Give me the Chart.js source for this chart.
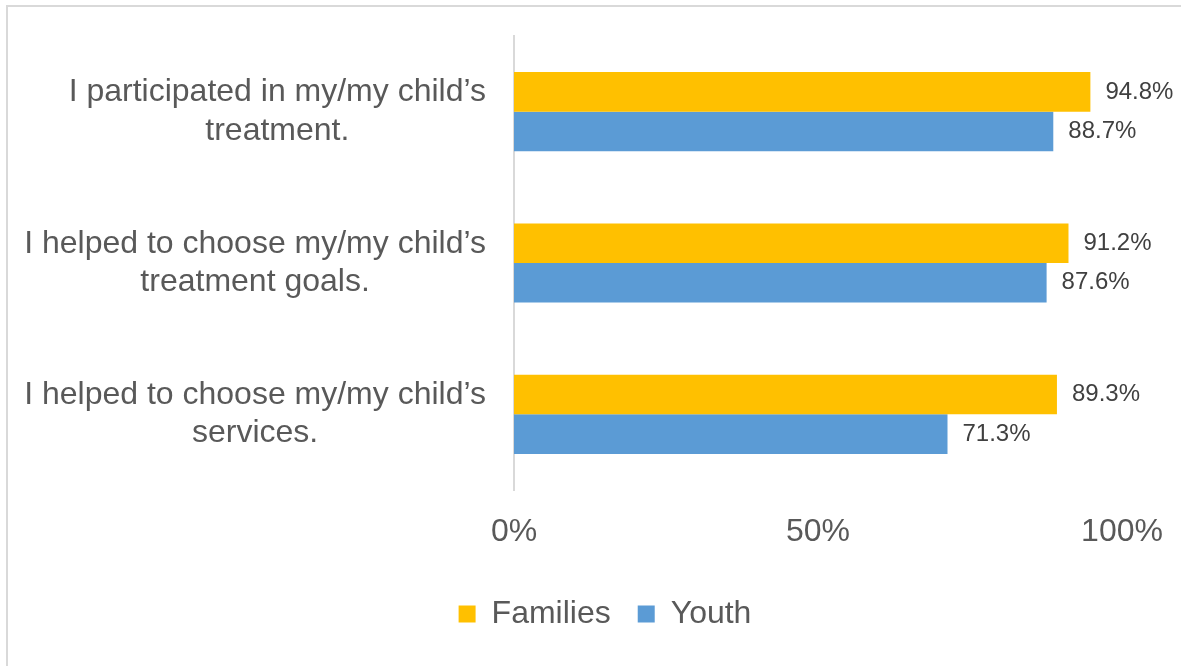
<!DOCTYPE html>
<html>
<head>
<meta charset="utf-8">
<script src="https://cdn.jsdelivr.net/npm/chart.js@4/dist/chart.umd.min.js"></script>
<style>
    html, body { margin: 0; padding: 0; background: #fff; overflow: hidden; }
    #frame {
        position: absolute; left: 6px; top: 5px;
        width: 1300px; height: 800px;
        border: 2px solid #d9d9d9;
    }
    #wrap { position: absolute; left: 0; top: 0; width: 1181px; height: 666px; }
</style>
</head>
<body>
<div id="frame"></div>
<div id="wrap"><canvas id="chart"></canvas></div>
<script>
// survey statements, one array of lines per bar group
var questions = [
    ["I participated in my/my child\u2019s", "treatment."],
    ["I helped to choose my/my child\u2019s", "treatment goals."],
    ["I helped to choose my/my child\u2019s", "services."]
];
var families = [94.8, 91.2, 89.3];
var youth = [88.7, 87.6, 71.3];
var seriesNames = ["Families", "Youth"];
var xTicks = [0, 50, 100];

var FONT = "'Liberation Sans', Arial, sans-serif";
var GREY = '#595959';
var PAD_LEFT = 88;

// category labels: block right aligned against the axis, lines centered in the block
var questionLabels = {
    id: 'questionLabels',
    afterDraw: function (chart) {
        var ctx = chart.ctx;
        var scale = chart.scales.y;
        var lh = 38.4;
        ctx.save();
        ctx.font = '32px ' + FONT;
        ctx.fillStyle = GREY;
        ctx.textAlign = 'center';
        ctx.textBaseline = 'middle';
        questions.forEach(function (lines, i) {
            var yc = scale.getPixelForTick(i);
            var w = 0;
            lines.forEach(function (l) { w = Math.max(w, ctx.measureText(l).width); });
            var xc = scale.right - 28 - w / 2;
            lines.forEach(function (l, j) {
                ctx.fillText(l, xc, yc + (j - (lines.length - 1) / 2) * lh);
            });
        });
        ctx.restore();
    }
};

// value labels to the right of each bar
var valueLabels = {
    id: 'valueLabels',
    afterDatasetsDraw: function (chart) {
        var ctx = chart.ctx;
        ctx.save();
        ctx.font = '24px ' + FONT;
        ctx.fillStyle = '#404040';
        ctx.textAlign = 'left';
        ctx.textBaseline = 'middle';
        chart.data.datasets.forEach(function (ds, d) {
            chart.getDatasetMeta(d).data.forEach(function (bar, i) {
                ctx.fillText(ds.data[i].toFixed(1) + '%', bar.x + 15, bar.y);
            });
        });
        ctx.restore();
    }
};

var ctx = document.getElementById('chart').getContext('2d');

var chart = new Chart(ctx, {
    type: 'bar',
    data: {
        labels: questions,
        datasets: [{
            label: seriesNames[0],
            data: families,
            backgroundColor: '#FFC000',
            categoryPercentage: 0.523,
            barPercentage: 1.0
        }, {
            label: seriesNames[1],
            data: youth,
            backgroundColor: '#5B9BD5',
            categoryPercentage: 0.523,
            barPercentage: 1.0
        }]
    },
    options: {
        indexAxis: 'y',
        responsive: true,
        maintainAspectRatio: false,
        animation: false,
        events: [],
        layout: {
            padding: {left: PAD_LEFT, right: 59, top: 36, bottom: 26}
        },
        scales: {
            x: {
                min: xTicks[0],
                max: xTicks[xTicks.length - 1],
                afterBuildTicks: function (scale) {
                    scale.ticks = xTicks.map(function (v) { return {value: v}; });
                },
                afterFit: function (scale) {
                    scale.height = 81;
                    scale.paddingLeft = 0;
                    scale.paddingRight = 0;
                },
                grid: {display: false, drawTicks: false},
                border: {display: false},
                ticks: {
                    padding: 23,
                    color: GREY,
                    font: {family: FONT, size: 32},
                    callback: function (v) { return v + '%'; }
                }
            },
            y: {
                afterFit: function (scale) { scale.width = 514 - PAD_LEFT; },
                grid: {display: false, drawTicks: false},
                border: {display: true, color: '#d9d9d9', width: 2},
                ticks: {display: false}
            }
        },
        plugins: {
            legend: {
                position: 'bottom',
                labels: {
                    boxWidth: 17,
                    boxHeight: 17,
                    padding: 27,
                    color: GREY,
                    font: {family: FONT, size: 32}
                }
            },
            tooltip: {enabled: false}
        }
    },
    plugins: [questionLabels, valueLabels]
});
</script>
</body>
</html>
